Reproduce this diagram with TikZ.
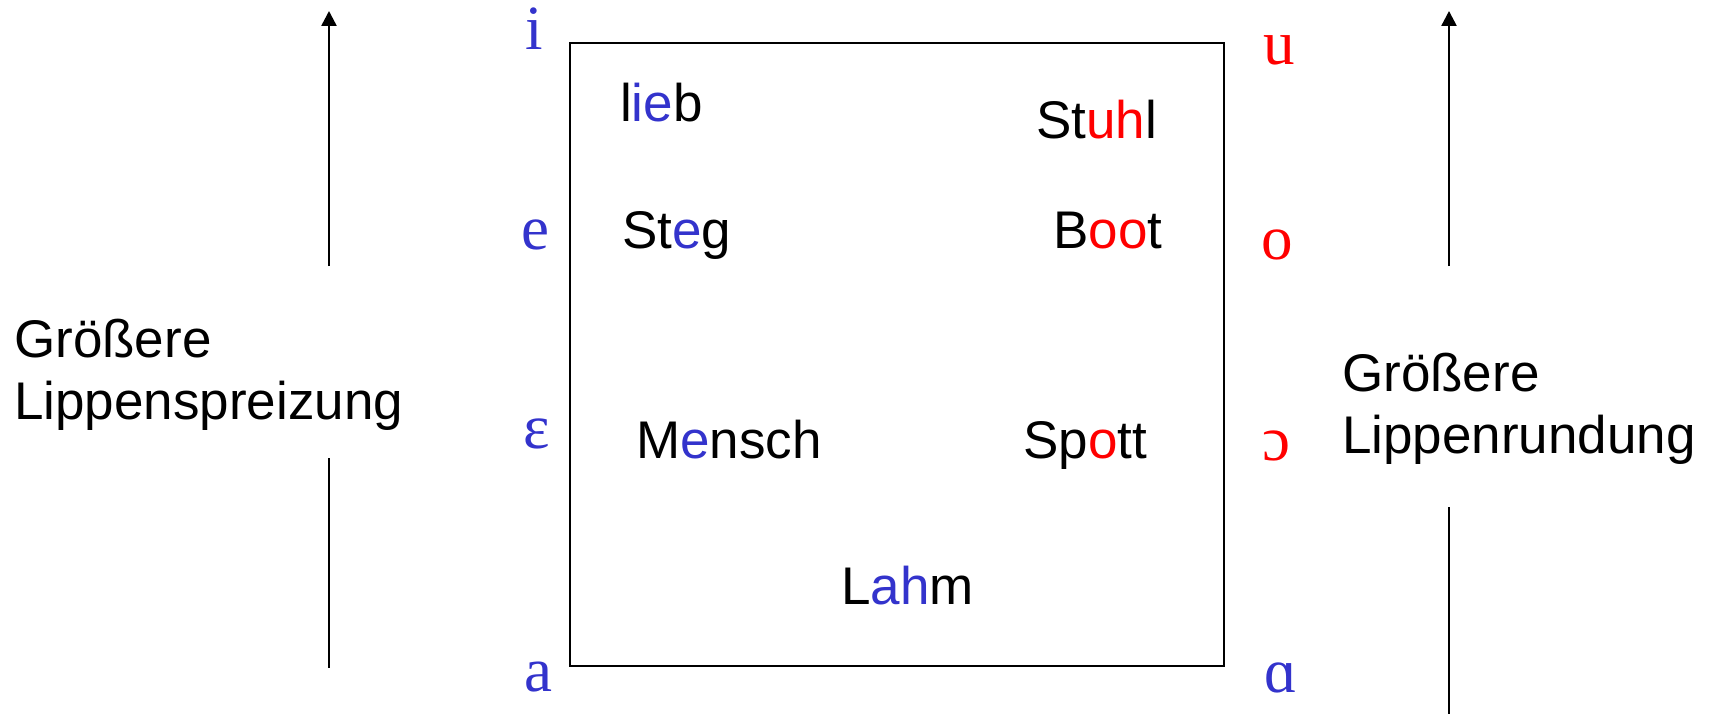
\documentclass[tikz,border=0pt]{standalone}
\usepackage{fontspec}
\setmainfont{Liberation Sans}
\newfontfamily\ipafont{Liberation Serif}
\usepackage{tikz}
\usetikzlibrary{arrows.meta,%
                positioning}
\definecolor{vowelblue}{RGB}{51,51,204}
\definecolor{vowelred}{RGB}{255,0,0}

\begin{document}
\begin{tikzpicture}[
x=1pt,y=-1pt,
word/.style={anchor=base west,inner sep=0pt,font=\fontsize{53}{62}\selectfont},
side/.style={word,align=left},
sound/.style={anchor=base,inner sep=0pt,font=\ipafont\fontsize{63}{70}\selectfont},
front/.style={sound,text=vowelblue},
back/.style={sound,text=vowelred},
axis/.style={line width=2.5pt,-{Triangle[length=15pt,width=15pt]}},
stem/.style={line width=2.5pt}]
\useasboundingbox (0,0) rectangle (1715,714);
% the vowel square
\draw [line width=2.5pt] (570,43) rectangle (1224,666);
% front vowels
\node [front] (i) at (534,50) {i};
\node [front] (e) at (535,249) {e};
\node [front] (eps) at (537,448) {ɛ};
\node [front] (a) at (538,691) {a};
% back vowels
\node [back] (u) at (1279,65) {u};
\node [back] (o) at (1277,259) {o};
\node [back] (oo) at (1276,460) {ɔ};
\node [front] (aa) at (1281,692) {ɑ};
% example words
\node [word] (lieb) at (620,122) {l\textcolor{vowelblue}{ie}b};
\node [word] (stuhl) at (1036,139) {St\textcolor{vowelred}{uh}l};
\node [word] (steg) at (622,248) {St\textcolor{vowelblue}{e}g};
\node [word] (boot) at (1053,248) {B\textcolor{vowelred}{oo}t};
\node [word] (mensch) at (636,458) {M\textcolor{vowelblue}{e}nsch};
\node [word] (spott) at (1023,458) {Sp\textcolor{vowelred}{o}tt};
\node [word] (lahm) at (841,604) {L\textcolor{vowelblue}{ah}m};
% side labels (base = last line)
\node [side] (spreiz) at (14,419) {Größere\\Lippenspreizung};
\node [side] (rund) at (1342,453) {Größere\\Lippenrundung};
% arrows
\coordinate (ltop) at (329,11);
\coordinate (lmid1) at (329,266);
\coordinate (lmid2) at (329,458);
\coordinate (lbot) at (329,668);
\coordinate (rtop) at (1449,11);
\coordinate (rmid1) at (1449,266);
\coordinate (rmid2) at (1449,507);
\coordinate (rbot) at (1449,714);
\draw [axis] (lmid1) -- (ltop);
\draw [stem] (lmid2) -- (lbot);
\draw [axis] (rmid1) -- (rtop);
\draw [stem] (rmid2) -- (rbot);
\end{tikzpicture}
\end{document}
